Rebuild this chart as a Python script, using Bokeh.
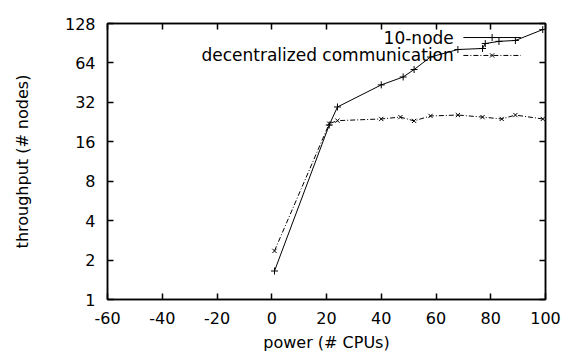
from bokeh.plotting import figure
from bokeh.models import (LinearAxis, LogAxis, FixedTicker, PrintfTickFormatter,
                          CustomJSTickFormatter, Range1d, Label)
from bokeh.embed import file_html
from bokeh.resources import INLINE

# ---- data ----
node10_x = [1, 21, 24, 40, 48, 52, 58, 68, 77, 78, 83, 89, 99]
node10_y = [1.65, 21.5, 29.5, 43.5, 50, 57, 71, 81, 82.5, 90, 93.5, 95, 115]

decen_x = [1, 21, 24, 40, 47, 52, 58, 68, 77, 84, 89, 99]
decen_y = [2.35, 22, 23.2, 23.9, 24.7, 23.1, 25.2, 25.6, 24.7, 23.9, 25.6, 23.9]

x_ticks = [-60, -40, -20, 0, 20, 40, 60, 80, 100]
y_ticks = [1, 2, 4, 8, 16, 32, 64, 128]

legend_labels = ["10-node", "decentralized communication"]
legend_text_x = 66.5
legend_y = [100, 73]
legend_line_x = [70, 91]
legend_mark_x = 80.5

FONT = "DejaVu Sans"
FS = "16px"

p = figure(width=574, height=354, x_axis_type="linear", y_axis_type="log",
           x_range=Range1d(-60, 100), y_range=Range1d(1, 128),
           output_backend="svg", toolbar_location=None,
           min_border_left=107, min_border_right=29,
           min_border_top=23, min_border_bottom=55)

p.grid.visible = False
p.outline_line_color = "black"
p.outline_line_width = 1.5
p.background_fill_color = "white"
p.border_fill_color = "white"

def style_axis(ax):
    ax.major_tick_in = 6
    ax.major_tick_out = 0
    ax.minor_tick_in = 0
    ax.minor_tick_out = 0
    ax.axis_line_color = "black"
    ax.axis_line_width = 1.5
    ax.major_tick_line_color = "black"
    ax.major_tick_line_width = 1.5
    ax.major_label_text_font = FONT
    ax.major_label_text_font_size = FS
    ax.major_label_text_color = "black"
    ax.axis_label_text_font = FONT
    ax.axis_label_text_font_size = FS
    ax.axis_label_text_font_style = "normal"
    ax.axis_label_text_color = "black"

xa = p.xaxis[0]
xa.ticker = FixedTicker(ticks=x_ticks)
xa.formatter = PrintfTickFormatter(format="%d")
xa.axis_label = "power (# CPUs)"
xa.major_label_standoff = 12
xa.axis_label_standoff = 6
style_axis(xa)

ya = p.yaxis[0]
ya.ticker = FixedTicker(ticks=y_ticks)
ya.formatter = PrintfTickFormatter(format="%d")
ya.axis_label = "throughput (# nodes)"
ya.major_label_standoff = 12
ya.axis_label_standoff = 30
style_axis(ya)

blank = CustomJSTickFormatter(code="return '';")
top = LinearAxis(ticker=FixedTicker(ticks=x_ticks), formatter=blank)
style_axis(top)
top.major_label_standoff = 0
p.add_layout(top, "above")

right = LogAxis(ticker=FixedTicker(ticks=y_ticks), formatter=blank)
style_axis(right)
right.major_label_standoff = 0
p.add_layout(right, "right")

# series
p.line(node10_x, node10_y, line_color="black", line_width=1)
p.scatter(node10_x, node10_y, marker="cross", size=7, line_color="black", line_width=1)

p.line(decen_x, decen_y, line_color="black", line_width=1, line_dash="5 2 1 2")
p.scatter(decen_x, decen_y, marker="x", size=6, line_color="black", line_width=1)

# gnuplot-style key: label right-aligned, sample to the right
dashes = ["solid", "5 2 1 2"]
markers = ["cross", "x"]
msizes = [7, 6]
for lab, ly, dsh, mk, ms in zip(legend_labels, legend_y, dashes, markers, msizes):
    p.add_layout(Label(x=legend_text_x, y=ly, text=lab, text_align="right",
                       text_baseline="middle", text_font=FONT,
                       text_font_size="17px", text_color="black"))
    p.line(legend_line_x, [ly, ly], line_color="black", line_width=1, line_dash=dsh)
    p.scatter([legend_mark_x], [ly], marker=mk, size=ms, line_color="black", line_width=1)

open("out.html", "w").write(file_html(p, INLINE))
